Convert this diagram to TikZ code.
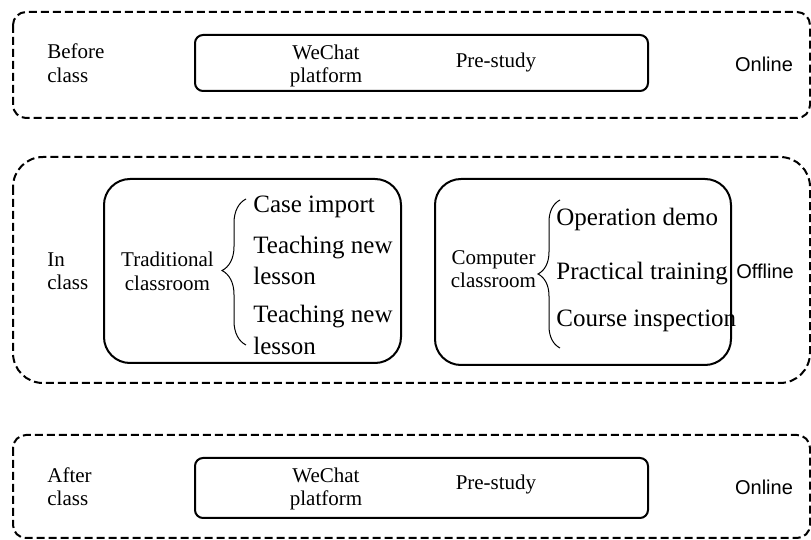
\documentclass[tikz,border=0pt]{standalone}
\usepackage{fontspec}
\setmainfont{Liberation Serif}
\newfontfamily\arialfont{Liberation Sans}
\usetikzlibrary{decorations.pathreplacing}
\usetikzlibrary{positioning}

\begin{document}
\begin{tikzpicture}[x=0.5pt, y=-0.5pt,
phase/.style={draw, line width=1pt, dash pattern=on 4pt off 2pt},
slot/.style={draw, line width=1pt},
lbl/.style={inner sep=0pt, font=\fontsize{10.5}{11.75}\selectfont, align=left},
item/.style={inner sep=0pt, font=\fontsize{12.5}{15.75}\selectfont, align=left},
mode/.style={inner sep=0pt, font=\arialfont\fontsize{10}{12}\selectfont},
brc/.style={decorate, line width=0.5pt}]
\useasboundingbox (0,0) rectangle (811,540);

\draw[phase, rounded corners=6.5pt] (13,12) rectangle (810,118);
\draw[slot, rounded corners=4pt] (195,35) rectangle (648,91);
\node[lbl, anchor=west] (bef) at (47,63) {Before\\class};
\node[lbl, align=center] (wc1) at (326,66) {WeChat\\platform};
\node[lbl, anchor=base] (pre1) at (496,68) {Pre-study};
\node[mode, anchor=base] (onl1) at (764,72) {Online};

\draw[phase, rounded corners=15pt] (13,157) rectangle (810,383);
\draw[slot, rounded corners=13pt] (104,179) rectangle (401,363);
\draw[slot, rounded corners=13pt] (435,179) rectangle (731,365);
\node[lbl, anchor=west] (inc) at (47,271) {In\\class};
\node[lbl, align=center] (trad) at (167.5,271.5) {Traditional\\classroom};
\node[item, anchor=base west] (case) at (253,213) {Case import};
\node[item, anchor=west] (teach1) at (253,260.5) {Teaching new\\lesson};
\node[item, anchor=west] (teach2) at (253,330) {Teaching new\\lesson};
\node[lbl, align=center] (comp) at (493.5,269) {Computer\\classroom};
\node[item, anchor=base west] (opdemo) at (556,226) {Operation demo};
\node[item, anchor=base west] (prac) at (556,280) {Practical training};
\node[item, anchor=base west] (insp) at (556,327) {Course inspection};
\node[mode, anchor=base west] (offl) at (736,279) {Offline};
\coordinate (tbtop) at (246,199);
\coordinate (tbbot) at (246,345);
\coordinate (cbtop) at (560,200);
\coordinate (cbbot) at (560,348);
\draw[brc, decoration={brace, amplitude=12pt, aspect=0.51}] (tbbot) -- (tbtop);
\draw[brc, decoration={brace, amplitude=11pt, aspect=0.5}] (cbbot) -- (cbtop);

\draw[phase, rounded corners=6.5pt] (13,435) rectangle (810,538);
\draw[slot, rounded corners=4pt] (195,458) rectangle (648,518);
\node[lbl, anchor=west] (aft) at (47,486.5) {After\\class};
\node[lbl, align=center] (wc2) at (326,489) {WeChat\\platform};
\node[lbl, anchor=base] (pre2) at (496,490) {Pre-study};
\node[mode, anchor=base] (onl2) at (764,495) {Online};
\end{tikzpicture}
\end{document}
